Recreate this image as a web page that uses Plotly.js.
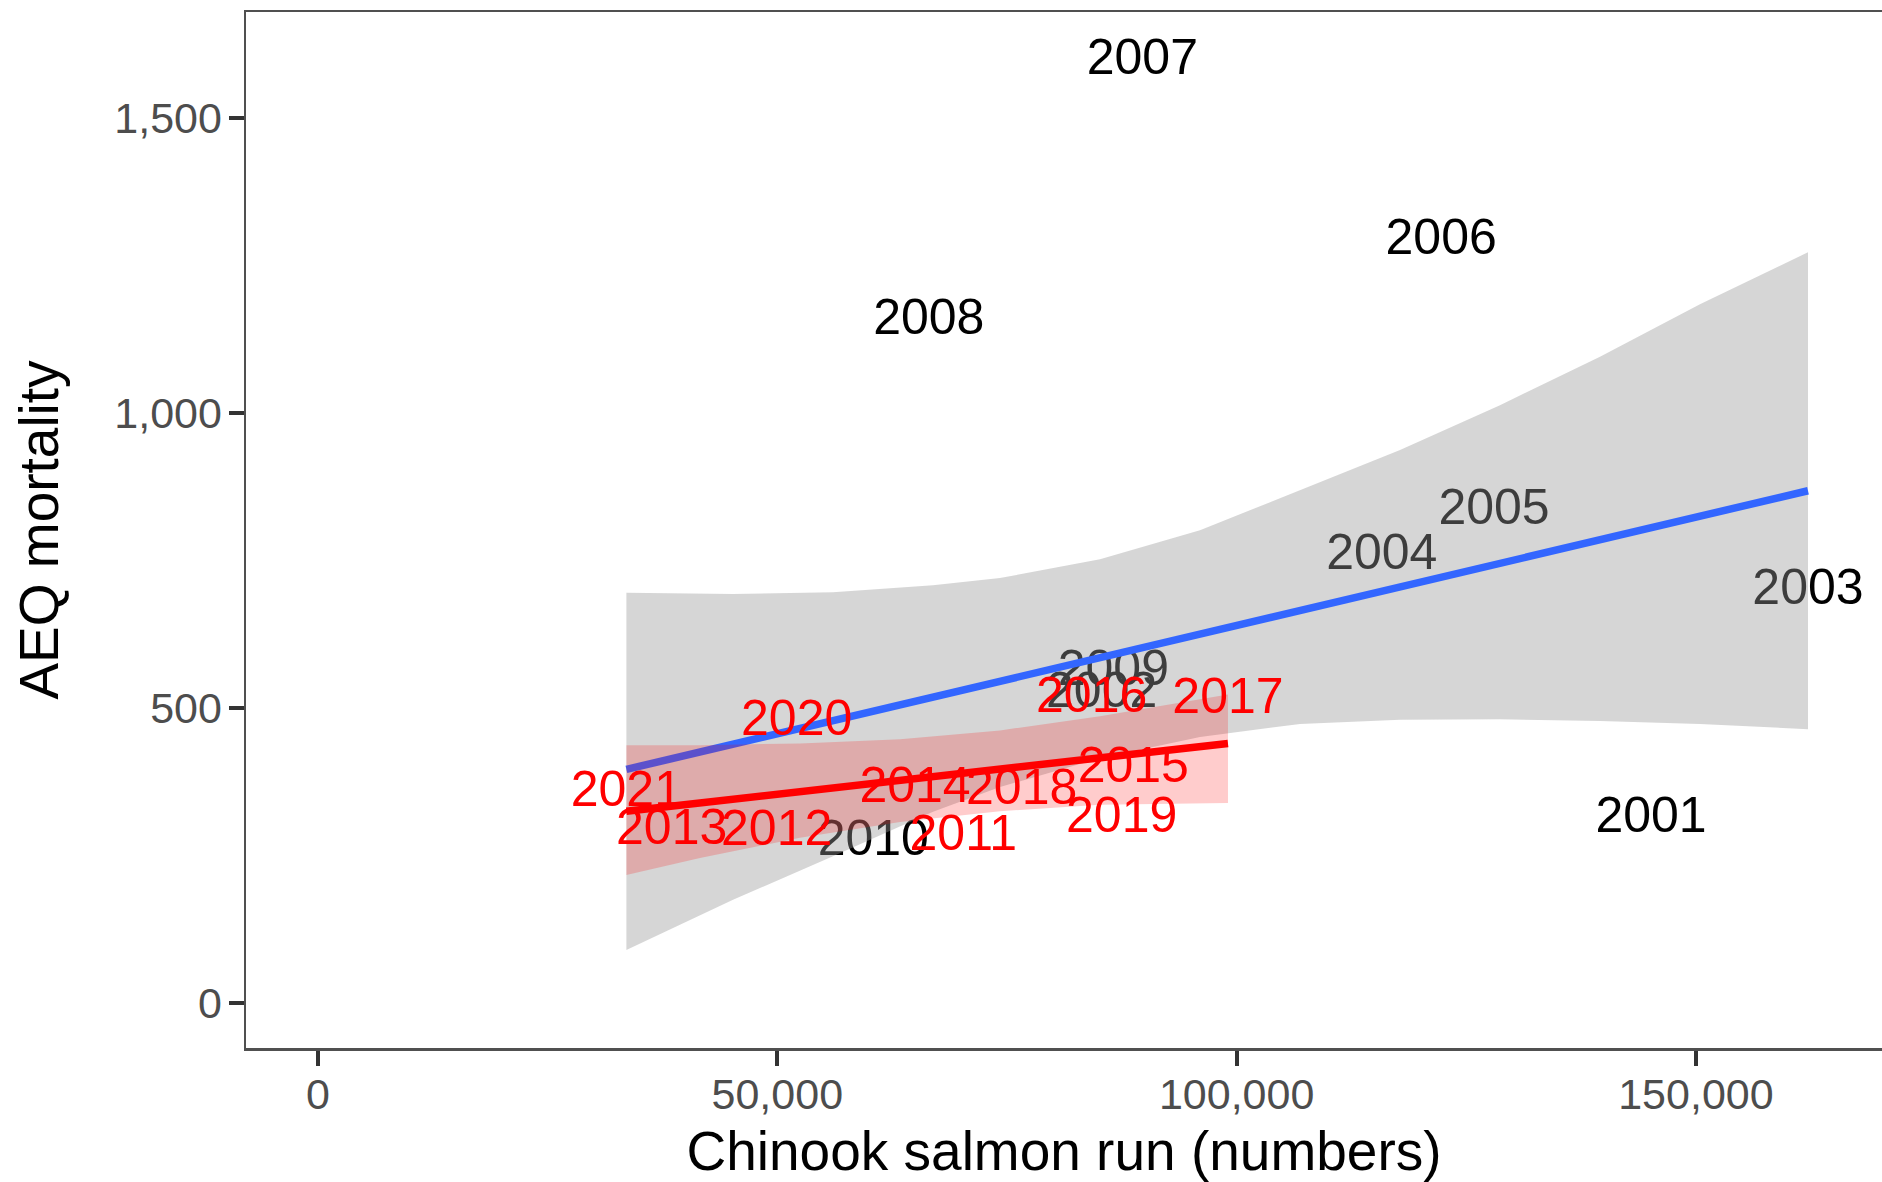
<!DOCTYPE html>
<html>
<head>
<meta charset="utf-8">
<script src="https://cdn.plot.ly/plotly-3.0.1.min.js"></script>
<style>
  html, body { margin: 0; padding: 0; background: #fff; }
  #chart { width: 1882px; height: 1182px; }
</style>
</head>
<body>
<div id="chart"></div>
<script>
// 2001-2010 (black labels)
const earlyYears = ["2001", "2002", "2003", "2004", "2005", "2006", "2007", "2008", "2009", "2010"];
const earlyRun = [145110, 85310, 162200, 115800, 128020, 122270, 89740, 66490, 86580, 60450];
const earlyAEQ = [311, 523, 697, 757, 833, 1290, 1595, 1154, 560, 272];

// 2011-2021 (red labels)
const lateYears = ["2011", "2012", "2013", "2014", "2015", "2016", "2017", "2018", "2019", "2020", "2021"];
const lateRun = [70250, 49930, 38500, 64990, 88750, 84220, 99060, 76600, 87490, 52110, 33570];
const lateAEQ = [281, 289, 291, 362, 396, 515, 512, 359, 311, 475, 355];

// linear fit, all years (blue) with its confidence band
const allFitX = [33570, 162200];
const allFitY = [396, 868];
const allBandX = [33570, 45180, 56060, 66950, 74240, 85130, 96010, 106900, 117790, 128670, 139560, 150440, 162200];
const allBandHi = [695, 693, 696, 708, 720, 752, 801, 869, 937, 1013, 1095, 1184, 1272];
const allBandLo = [90, 175, 249, 324, 366, 415, 451, 473, 480, 481, 478, 473, 464];

// linear fit, 2011-2021 (red) with its confidence band
const lateFitX = [33570, 99060];
const lateFitY = [325, 440];
const lateBandX = [33570, 41585, 52470, 63360, 74240, 85130, 99060];
const lateBandHi = [437, 437, 440, 447, 462, 486, 523];
const lateBandLo = [217, 246, 280, 307, 325, 336, 339];

const xTicks = [0, 50000, 100000, 150000];
const yTicks = [0, 500, 1000, 1500];

const FONT = '"Liberation Sans", Arial, Helvetica, sans-serif';

function band(xs, hi, lo) {
  return {
    x: xs.concat(xs.slice().reverse()),
    y: hi.concat(lo.slice().reverse()),
  };
}

const greyBand = band(allBandX, allBandHi, allBandLo);
const redBand = band(lateBandX, lateBandHi, lateBandLo);

const traces = [
  {
    x: earlyRun, y: earlyAEQ, text: earlyYears,
    type: "scatter", mode: "text", textposition: "middle center",
    textfont: { family: FONT, size: 50, color: "#000000" },
    hoverinfo: "skip",
  },
  {
    x: greyBand.x, y: greyBand.y,
    type: "scatter", mode: "lines", fill: "toself",
    fillcolor: "rgba(153,153,153,0.4)", line: { width: 0 },
    hoverinfo: "skip",
  },
  {
    x: allFitX, y: allFitY,
    type: "scatter", mode: "lines",
    line: { color: "#3366FF", width: 7.5 },
  },
  {
    x: lateRun, y: lateAEQ, text: lateYears,
    type: "scatter", mode: "text", textposition: "middle center",
    textfont: { family: FONT, size: 50, color: "#FF0000" },
    hoverinfo: "skip",
  },
  {
    x: redBand.x, y: redBand.y,
    type: "scatter", mode: "lines", fill: "toself",
    fillcolor: "rgba(255,0,0,0.2)", line: { width: 0 },
    hoverinfo: "skip",
  },
  {
    x: lateFitX, y: lateFitY,
    type: "scatter", mode: "lines",
    line: { color: "#FF0000", width: 7.5 },
  },
];

const axisCommon = {
  showgrid: false,
  zeroline: false,
  showline: true,
  mirror: true,
  linecolor: "#505050",
  linewidth: 2.5,
  ticks: "outside",
  ticklen: 15,
  tickwidth: 4,
  tickcolor: "#333333",
  tickformat: ",",
  tickfont: { family: FONT, size: 43, color: "#4d4d4d" },
};

Plotly.newPlot(
  "chart",
  traces,
  {
    width: 1882,
    height: 1182,
    margin: { l: 246, r: 0, t: 12, b: 134 },
    paper_bgcolor: "#ffffff",
    plot_bgcolor: "#ffffff",
    showlegend: false,
    font: { family: FONT },
    xaxis: {
      ...axisCommon,
      range: [-7838, 170257],
      tickmode: "array",
      tickvals: xTicks,
      ticklabelstandoff: -8,
      title: { text: "Chinook salmon run (numbers)", font: { family: FONT, size: 55, color: "#000000" }, standoff: 38 },
    },
    yaxis: {
      ...axisCommon,
      range: [-76, 1679],
      tickmode: "array",
      tickvals: yTicks,
      ticklabelstandoff: -2,
      title: { text: "AEQ mortality", font: { family: FONT, size: 55, color: "#000000" }, standoff: 38 },
    },
  },
  { displayModeBar: false, staticPlot: true }
);
</script>
</body>
</html>
